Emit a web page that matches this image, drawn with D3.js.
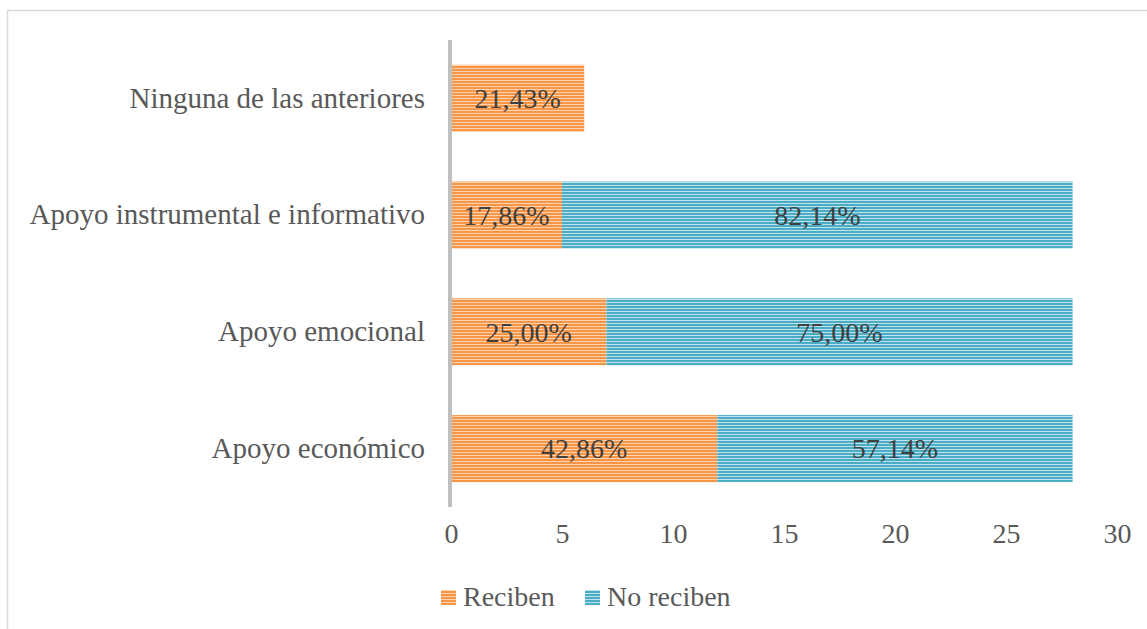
<!DOCTYPE html>
<html>
<head>
<meta charset="utf-8">
<script src="https://cdn.jsdelivr.net/npm/d3@7"></script>
<style>
  body { margin: 0; background: #fff; }
  svg text { font-family: "Times New Roman", "Liberation Serif", "DejaVu Serif", "Noto Serif", serif; fill: #595959; }
</style>
</head>
<body>
<div id="chart"></div>
<script>
// categories top to bottom
var categories = ["Ninguna de las anteriores", "Apoyo instrumental e informativo", "Apoyo emocional", "Apoyo económico"];
var reciben = [6, 5, 7, 12];
var noReciben = [0, 23, 21, 16];
var recibenLabels = ["21,43%", "17,86%", "25,00%", "42,86%"];
var noRecibenLabels = ["", "82,14%", "75,00%", "57,14%"];
var xTicks = [0, 5, 10, 15, 20, 25, 30];
var seriesNames = ["Reciben", "No reciben"];

var width = 1147, height = 629;
var fontFam = '"Times New Roman", "Liberation Serif", "DejaVu Serif", "Noto Serif", serif';

var svg = d3.select("#chart").append("svg")
    .attr("width", width)
    .attr("height", height);

// stripe patterns
var defs = svg.append("defs");
function stripes(id, fg, bg) {
  var p = defs.append("pattern")
    .attr("id", id)
    .attr("patternUnits", "userSpaceOnUse")
    .attr("width", 6)
    .attr("height", 3);
  p.append("rect").attr("width", 6).attr("height", 3).attr("fill", bg);
  p.append("rect").attr("width", 6).attr("height", 2).attr("fill", fg);
}
stripes("pOrange", "#F79646", "#FCD3B0");
stripes("pBlue", "#4BACC6", "#BFE3EC");

// chart border
svg.append("rect")
  .attr("x", 7.5).attr("y", 10.5)
  .attr("width", 1150).attr("height", 640)
  .attr("fill", "none")
  .attr("stroke", "#d9d9d9")
  .attr("stroke-width", 1.5);

var x = d3.scaleLinear().domain([0, 30]).range([451, 1117]);
var y = d3.scaleBand().domain(categories).range([40, 507])
  .paddingInner(0.425).paddingOuter(0.2125);

var data = categories.map(function(c, i) {
  return { cat: c, r: reciben[i], n: noReciben[i], rl: recibenLabels[i], nl: noRecibenLabels[i] };
});

// x axis labels only
var xAxis = d3.axisBottom(x).tickValues(xTicks).tickSize(0).tickPadding(0);
var gx = svg.append("g")
  .attr("transform", "translate(0,523)")
  .call(xAxis)
  .attr("font-family", null).attr("font-size", null);
gx.select(".domain").remove();
gx.selectAll("text")
  .attr("dy", "0.71em")
  .style("font-size", "28px")
  .style("font-family", fontFam)
  .attr("fill", "#595959");

// category labels
var gy = svg.append("g")
  .attr("transform", "translate(425,0)")
  .call(d3.axisLeft(y).tickSize(0).tickPadding(0))
  .attr("font-family", null).attr("font-size", null);
gy.select(".domain").remove();
gy.selectAll("text")
  .style("font-size", "29px")
  .style("font-family", fontFam)
  .attr("fill", "#595959");

var bars = svg.selectAll(".row").data(data).enter().append("g");

bars.append("rect")
  .attr("x", function(d) { return x(0); })
  .attr("y", function(d) { return y(d.cat); })
  .attr("width", function(d) { return x(d.r) - x(0); })
  .attr("height", y.bandwidth())
  .attr("fill", "url(#pOrange)");

bars.filter(function(d) { return d.n > 0; }).append("rect")
  .attr("x", function(d) { return x(d.r); })
  .attr("y", function(d) { return y(d.cat); })
  .attr("width", function(d) { return x(d.r + d.n) - x(d.r); })
  .attr("height", y.bandwidth())
  .attr("fill", "url(#pBlue)");

bars.append("text")
  .attr("x", function(d) { return (x(0) + x(d.r)) / 2; })
  .attr("y", function(d) { return y(d.cat) + y.bandwidth() / 2; })
  .attr("dy", "0.35em")
  .attr("text-anchor", "middle")
  .style("font-size", "28px")
  .style("font-family", fontFam)
  .style("fill", "#404040")
  .text(function(d) { return d.rl; });

bars.append("text")
  .attr("x", function(d) { return (x(d.r) + x(d.r + d.n)) / 2; })
  .attr("y", function(d) { return y(d.cat) + y.bandwidth() / 2; })
  .attr("dy", "0.35em")
  .attr("text-anchor", "middle")
  .style("font-size", "28px")
  .style("font-family", fontFam)
  .style("fill", "#404040")
  .text(function(d) { return d.nl; });

// vertical axis line
svg.append("line")
  .attr("x1", 450).attr("x2", 450)
  .attr("y1", 40).attr("y2", 507)
  .attr("stroke", "#bfbfbf")
  .attr("stroke-width", 4);

// legend
var legend = svg.append("g");
var legendX = [441, 585];
var legendFill = ["url(#pOrange)", "url(#pBlue)"];
seriesNames.forEach(function(name, i) {
  legend.append("rect")
    .attr("x", legendX[i]).attr("y", 590)
    .attr("width", 15).attr("height", 15)
    .attr("fill", legendFill[i]);
  legend.append("text")
    .attr("x", legendX[i] + 22).attr("y", 606)
    .style("font-size", "28px")
    .style("font-family", fontFam)
    .text(name);
});
</script>
</body>
</html>
